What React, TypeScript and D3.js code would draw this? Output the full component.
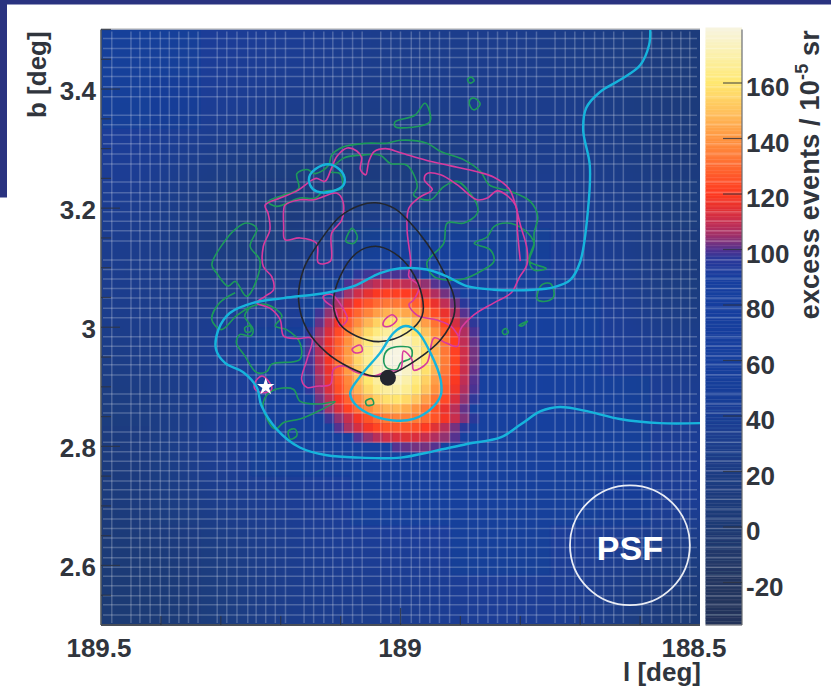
import React from "react";
import * as d3 from "d3";

type P = [number, number];

// colour bar
const colorValues = [-35, -20, 0, 20, 40, 60, 90, 97, 100, 105, 110, 115, 120, 130, 140, 150, 160, 170, 180];
const colorStops = ["#22335a", "#233660", "#1f3a74", "#1c3c84", "#1a3e95", "#183f9e", "#183f9f", "#2f3798", "#55308f", "#a0306a", "#c82e4e", "#e63030", "#ff3a20", "#ff6a30", "#ff9540", "#ffc25c", "#ffe870", "#fbf0aa", "#f7f4e2"];
const colorTicks = [-20, 0, 20, 40, 60, 80, 100, 120, 140, 160];

// axes
const lTicksMajor = [189.5, 189, 188.5];
const lTicksMinor = [189.4, 189.3, 189.2, 189.1, 188.9, 188.8, 188.7, 188.6];
const bTicksMajor = [3.4, 3.2, 3.0, 2.8, 2.6];
const bTicksMinor = [3.5, 3.45, 3.35, 3.3, 3.25, 3.15, 3.1, 3.05, 2.95, 2.9, 2.85, 2.75, 2.7, 2.65, 2.55];

// smooth background, 12 x 12 coarse cells, top row first, l descending
const bgValues = [
  [50, 50, 45, 40, 35, 30, 28, 30, 30, 25, 20, 10],
  [50, 48, 40, 32, 28, 25, 28, 32, 32, 28, 20, 10],
  [45, 35, 25, 20, 15, 12, 15, 22, 28, 28, 22, 12],
  [35, 25, 15, 8, 10, 15, 20, 28, 35, 35, 28, 15],
  [30, 25, 15, 15, 30, 50, 60, 55, 50, 45, 30, 10],
  [30, 30, 30, 35, 50, 70, 85, 85, 70, 55, 35, 18],
  [25, 30, 40, 50, 65, 80, 85, 85, 75, 60, 45, 30],
  [15, 25, 40, 55, 70, 85, 85, 85, 78, 65, 50, 35],
  [12, 25, 40, 50, 60, 75, 80, 80, 70, 60, 50, 40],
  [10, 20, 30, 35, 45, 55, 60, 60, 55, 50, 48, 40],
  [5, 10, 20, 30, 38, 40, 45, 50, 50, 45, 35, 20],
  [0, 5, 15, 28, 30, 30, 35, 42, 42, 35, 20, 5],
];

// hot spot bins: bin edge origin and bin width in degrees
const hotStartL = 189.159;
const hotStartB = 3.097;
const hotBinDeg = 1 / 62;
const hotValues = [
  [84, 86, 88, 90, 93, 96, 98, 99, 99, 99, 99, 97, 95, 94, 92, 89, 87, 85],
  [86, 88, 91, 95, 99, 103, 106, 109, 110, 110, 109, 107, 104, 100, 96, 93, 89, 87],
  [88, 91, 95, 100, 105, 111, 115, 119, 121, 121, 120, 117, 112, 107, 102, 97, 93, 89],
  [90, 94, 100, 106, 113, 120, 126, 130, 133, 133, 132, 128, 122, 116, 109, 102, 96, 92],
  [92, 98, 104, 112, 121, 129, 136, 142, 146, 146, 144, 139, 132, 124, 116, 107, 100, 94],
  [95, 101, 109, 118, 128, 138, 147, 154, 158, 158, 156, 150, 142, 132, 122, 112, 104, 97],
  [97, 104, 113, 123, 134, 146, 156, 163, 168, 169, 166, 159, 150, 139, 128, 117, 107, 99],
  [98, 106, 116, 127, 139, 151, 162, 170, 175, 176, 173, 166, 156, 144, 132, 120, 109, 101],
  [99, 107, 117, 129, 141, 154, 165, 174, 179, 180, 176, 169, 158, 146, 133, 121, 111, 102],
  [99, 108, 118, 130, 142, 155, 166, 175, 180, 180, 177, 170, 159, 147, 134, 122, 111, 102],
  [98, 107, 116, 128, 141, 153, 164, 173, 178, 179, 175, 168, 158, 146, 133, 121, 110, 101],
  [97, 105, 115, 126, 137, 149, 160, 168, 173, 174, 170, 163, 154, 142, 130, 119, 109, 100],
  [96, 104, 113, 124, 135, 146, 156, 164, 168, 169, 166, 159, 150, 139, 128, 117, 107, 99],
  [95, 102, 109, 118, 128, 138, 147, 154, 158, 159, 156, 151, 142, 132, 123, 113, 104, 97],
  [92, 98, 105, 113, 121, 130, 138, 143, 147, 148, 145, 140, 133, 125, 116, 108, 101, 94],
  [90, 93, 98, 104, 110, 118, 125, 130, 134, 136, 136, 134, 130, 125, 118, 110, 103, 96],
  [87, 90, 94, 100, 106, 112, 118, 122, 125, 126, 126, 124, 120, 114, 108, 102, 96, 90],
  [85, 87, 90, 93, 95, 100, 104, 108, 111, 113, 114, 113, 110, 107, 104, 100, 95, 88],
  [83, 85, 87, 89, 91, 94, 95, 95, 95, 100, 101, 102, 102, 100, 95, 92, 88, 85],
];

// overlay grid lines
const gridL = [189.482, 189.45, 189.435, 189.418, 189.401, 189.386, 189.37, 189.354, 189.338, 189.306, 189.29, 189.273, 189.255, 189.241, 189.225, 189.209, 189.192, 189.161, 189.145, 189.128, 189.113, 189.097, 189.08, 189.064, 189.033, 189.016, 189.0, 188.982, 188.968, 188.951, 188.935, 188.918, 188.887, 188.871, 188.854, 188.838, 188.822, 188.806, 188.79, 188.773, 188.742, 188.725, 188.709, 188.694, 188.676, 188.661, 188.644, 188.628, 188.597, 188.581, 188.564, 188.547, 188.532, 188.517];
const gridB = [3.485, 3.468, 3.453, 3.436, 3.421, 3.404, 3.387, 3.356, 3.34, 3.323, 3.308, 3.291, 3.274, 3.244, 3.226, 3.211, 3.194, 3.178, 3.162, 3.145, 3.113, 3.097, 3.081, 3.065, 3.049, 3.032, 3.016, 2.984, 2.968, 2.952, 2.937, 2.92, 2.888, 2.871, 2.856, 2.824, 2.807, 2.791, 2.775, 2.759, 2.742, 2.727, 2.711, 2.695, 2.678, 2.662, 2.646, 2.63, 2.613, 2.597, 2.582, 2.566, 2.549, 2.534, 2.517];

// contours [l, b]
const blackOuter: P[] = [[189.17,3.044],[189.162,3.097],[189.137,3.141],[189.101,3.186],[189.067,3.205],[189.042,3.209],[189.011,3.2],[188.986,3.178],[188.956,3.141],[188.93,3.097],[188.911,3.052],[188.911,3.019],[188.933,2.979],[188.972,2.946],[189.017,2.921],[189.045,2.918],[189.084,2.932],[189.123,2.957],[189.156,2.996]];
const blackInner: P[] = [[189.112,3.038],[189.101,3.085],[189.073,3.125],[189.042,3.136],[189.011,3.125],[188.983,3.097],[188.964,3.052],[188.964,3.019],[188.989,2.991],[189.034,2.976],[189.073,2.985],[189.101,3.005]];
const cyanBlob: P[] = [[189.151,3.256],[189.131,3.272],[189.112,3.272],[189.095,3.256],[189.095,3.239],[189.115,3.228],[189.14,3.228],[189.151,3.239]];
const cyanTriangle: P[] = [[189.084,2.89],[189.067,2.918],[189.034,2.957],[189.011,2.991],[188.992,3.002],[188.972,2.993],[188.95,2.957],[188.933,2.912],[188.933,2.885],[188.95,2.862],[188.978,2.846],[189.006,2.843],[189.045,2.851],[189.076,2.871]];
const cyanLong: P[] = [[188.583,3.499],[188.585,3.474],[188.6,3.44],[188.634,3.415],[188.667,3.395],[188.69,3.368],[188.695,3.331],[188.684,3.272],[188.687,3.197],[188.7,3.11],[188.717,3.079],[188.745,3.067],[188.777,3.063],[188.844,3.063],[188.889,3.069],[188.922,3.085],[188.956,3.097],[189.0,3.099],[189.034,3.091],[189.078,3.069],[189.123,3.058],[189.195,3.049],[189.246,3.041],[189.285,3.024],[189.304,2.996],[189.308,2.963],[189.293,2.94],[189.262,2.924],[189.24,2.899],[189.232,2.868],[189.207,2.829],[189.168,2.798],[189.123,2.785],[189.067,2.781],[189.0,2.781],[188.944,2.792],[188.889,2.804],[188.833,2.815],[188.799,2.837],[188.766,2.859],[188.734,2.866],[188.684,2.858],[188.634,2.846],[188.567,2.839],[188.5,2.839]];

const magentaClosed: P[][] = [
  [[189.226,3.205],[189.201,3.217],[189.173,3.229],[189.148,3.247],[189.14,3.25],[189.126,3.245],[189.116,3.265],[189.106,3.287],[189.089,3.301],[189.073,3.296],[189.065,3.285],[189.067,3.265],[189.058,3.256],[189.053,3.278],[189.044,3.295],[189.025,3.3],[189.0,3.293],[188.956,3.28],[188.916,3.271],[188.872,3.261],[188.844,3.252],[188.819,3.233],[188.808,3.205],[188.8,3.172],[188.789,3.133],[188.789,3.105],[188.802,3.083],[188.815,3.058],[188.844,3.041],[188.877,3.021],[188.9,2.996],[188.905,2.968],[188.925,2.974],[188.944,2.982],[188.956,2.94],[188.978,2.928],[188.981,2.946],[188.995,2.96],[189.0,2.929],[189.022,2.926],[189.045,2.918],[189.073,2.924],[189.095,2.935],[189.112,2.929],[189.117,2.904],[189.14,2.901],[189.156,2.899],[189.165,2.912],[189.156,2.946],[189.148,2.981],[189.173,2.981],[189.195,2.985],[189.201,3.013],[189.218,3.032],[189.24,3.041],[189.226,3.052],[189.212,3.063],[189.215,3.085],[189.229,3.102],[189.229,3.136],[189.218,3.164],[189.221,3.191]],
  [[189.193,3.205],[189.168,3.214],[189.145,3.214],[189.106,3.225],[189.096,3.211],[189.098,3.18],[189.115,3.158],[189.117,3.111],[189.137,3.108],[189.14,3.141],[189.168,3.15],[189.193,3.147],[189.195,3.169],[189.195,3.197]],
  [[189.129,3.052],[189.115,3.055],[189.098,3.035],[189.089,3.013],[189.101,3.002],[189.109,3.03],[189.126,3.044]],
  [[189.028,3.01],[189.014,3.021],[189.006,3.013],[189.017,3.002],[189.028,3.002]],
  [[189.081,2.963],[189.067,2.97],[189.064,2.96],[189.076,2.957]],
  [[189.243,2.907],[189.232,2.918],[189.221,2.91],[189.215,2.896],[189.229,2.89],[189.243,2.896]],
];
const magentaOpen: P[] = [[188.8,3.111],[188.805,3.164],[188.808,3.205],[188.838,3.229],[188.855,3.217],[188.872,3.214],[188.905,3.239],[188.933,3.256],[188.956,3.258],[188.96,3.247],[188.947,3.231],[188.967,3.219],[188.986,3.2],[188.989,3.164],[188.983,3.108],[188.986,3.085],[188.969,3.069],[188.978,3.046],[188.986,3.038],[188.972,3.02],[188.939,3.012],[188.916,3.002],[188.903,2.985]];

const greenClosed: P[][] = [
  [[189.221,3.211],[189.195,3.222],[189.17,3.233],[189.173,3.258],[189.156,3.265],[189.142,3.258],[189.12,3.272],[189.115,3.289],[189.095,3.303],[189.056,3.309],[189.023,3.309],[189.0,3.314],[188.956,3.309],[188.933,3.295],[188.894,3.281],[188.866,3.261],[188.852,3.239],[188.816,3.228],[188.783,3.211],[188.771,3.186],[188.777,3.158],[188.777,3.141],[188.785,3.111],[188.757,3.099],[188.777,3.096],[188.785,3.111],[188.777,3.141],[188.794,3.164],[188.822,3.175],[188.844,3.169],[188.855,3.152],[188.877,3.141],[188.85,3.13],[188.844,3.111],[188.861,3.097],[188.9,3.08],[188.944,3.085],[188.956,3.108],[188.928,3.141],[188.922,3.175],[188.894,3.175],[188.872,3.191],[188.872,3.205],[188.905,3.245],[188.928,3.236],[188.95,3.214],[188.978,3.222],[188.972,3.236],[188.989,3.272],[189.017,3.275],[189.034,3.289],[189.067,3.289],[189.095,3.284],[189.117,3.261],[189.101,3.258],[189.098,3.233],[189.129,3.228],[189.142,3.217],[189.168,3.217],[189.207,3.203]],
  [[189.257,3.175],[189.24,3.166],[189.251,3.136],[189.235,3.113],[189.24,3.08],[189.257,3.052],[189.276,3.077],[189.288,3.069],[189.307,3.091],[189.315,3.105],[189.296,3.141],[189.274,3.166]],
  [[189.215,2.893],[189.179,2.896],[189.168,2.876],[189.137,2.871],[189.109,2.875],[189.142,2.857],[189.168,2.846],[189.195,2.84],[189.209,2.829],[189.223,2.846],[189.229,2.874]],
  [[189.187,2.826],[189.176,2.829],[189.173,2.818],[189.184,2.812]],
  [[189.26,2.999],[189.251,3.002],[189.25,2.993],[189.258,2.992]],
  [[189.081,3.166],[189.072,3.152],[189.078,3.141],[189.091,3.144],[189.087,3.158]],
  [[189.028,2.946],[189.02,2.963],[188.983,2.965],[188.982,2.949],[189.0,2.94],[189.006,2.929],[189.023,2.932]],
  [[189.058,2.876],[189.048,2.88],[189.045,2.871],[189.056,2.869]],
  [[188.771,3.058],[188.763,3.072],[188.749,3.073],[188.744,3.052],[188.755,3.044],[188.771,3.046]],
  [[188.83,2.993],[188.824,2.998],[188.82,2.991],[188.827,2.988]],
  [[188.802,3.003],[188.788,3.01],[188.797,3.002]],
  [[189.009,3.345],[188.976,3.356],[188.959,3.376],[188.951,3.345],[189.009,3.337]],
  [[188.884,3.382],[188.877,3.385],[188.867,3.375],[188.877,3.365],[188.884,3.372]],
  [[188.888,3.416],[188.882,3.42],[188.877,3.414],[188.884,3.41]],
];
const greenOpen: P[] = [[189.276,3.058],[189.302,3.041],[189.315,3.013],[189.299,2.996],[189.274,3.019],[189.249,3.035],[189.223,3.038],[189.198,3.019],[189.209,3.002],[189.19,2.996],[189.168,2.974],[189.168,2.946],[189.215,2.938],[189.223,2.926],[189.24,2.924],[189.26,2.952],[189.274,2.974],[189.268,2.988],[189.251,2.985],[189.246,2.996],[189.26,3.019],[189.249,3.035]];

const dot: P = [189.021, 2.915];
const star: P = [189.225, 2.9];
const psfCentre: P = [188.617, 2.634];
const psfRadiusDeg = 0.1;

const W = 831, H = 686;
const X0 = 101, X1 = 700, Y0 = 29.5, Y1 = 625;
const x = d3.scaleLinear().domain([189.5, 188.5]).range([X0, X1]);
const y = d3.scaleLinear().domain([3.5, 2.5]).range([Y0, Y1]);
const cbY = d3.scaleLinear().domain([0, 160]).range([527, 83]);
const CB0 = 705.5, CB1 = 742;
const color = d3.scaleLinear<string>().domain(colorValues).range(colorStops).interpolate(d3.interpolateRgb).clamp(true);

const smoothClosed = d3.line<P>().x(d => x(d[0])).y(d => y(d[1])).curve(d3.curveCatmullRomClosed.alpha(0.5));
const smoothOpen = d3.line<P>().x(d => x(d[0])).y(d => y(d[1])).curve(d3.curveCatmullRom.alpha(0.5));

const FONT = "'Liberation Sans', Arial, sans-serif";
const TXT = "#30353d";
const CYAN = "#17b4dc";
const GREEN = "#1f9a5a";
const MAGENTA = "#d83a9e";
const BLACK = "#23262e";
const tickLabelX: Record<string, number> = { "189.5": 99, "189": 400, "188.5": 694 };

export default function App() {
  const binL = (i: number) => hotStartL - i * hotBinDeg;
  const binB = (j: number) => hotStartB - j * hotBinDeg;
  const coarse = 1 / 12;
  const cbLevels = d3.range(-35, 180, 0.5);
  const starPath = d3.symbol().type(d3.symbolStar).size(95)()!;
  return (
    <svg width={W} height={H} viewBox={`0 0 ${W} ${H}`} style={{ position: "fixed", left: 0, top: 0, background: "#fff" }}>
      <defs>
        <clipPath id="plot"><rect x={X0} y={Y0} width={X1 - X0} height={Y1 - Y0} /></clipPath>
        <filter id="bgblur" x="-20%" y="-20%" width="140%" height="140%"><feGaussianBlur stdDeviation="22" /></filter>
        <filter id="soft" x="-5%" y="-5%" width="110%" height="110%"><feGaussianBlur stdDeviation="0.35" /></filter>
      </defs>
      <rect x={0} y={0} width={W} height={4.5} fill="#2a3380" />
      <rect x={0} y={0} width={7} height={197.5} fill="#2a3380" />

      <g clipPath="url(#plot)">
        <g filter="url(#bgblur)">
          {bgValues.map((row, r) => row.map((v, c) => {
            const xa = c === 0 ? X0 - 80 : x(189.5 - c * coarse);
            const xb = c === 11 ? X1 + 80 : x(189.5 - (c + 1) * coarse);
            const ya = r === 0 ? Y0 - 80 : y(3.5 - r * coarse);
            const yb = r === 11 ? Y1 + 80 : y(3.5 - (r + 1) * coarse);
            return <rect key={`${r}-${c}`} x={xa} y={ya} width={xb - xa + 0.5} height={yb - ya + 0.5} fill={color(v)} />;
          }))}
        </g>
        <g filter="url(#soft)">
          {hotValues.map((row, r) => row.map((v, c) => v < 96 ? null : (
            <rect key={`${r}-${c}`} x={x(binL(c))} y={y(binB(r))}
              width={x(binL(c + 1)) - x(binL(c)) + 0.3}
              height={y(binB(r + 1)) - y(binB(r)) + 0.3} fill={color(v)} />
          )))}
        </g>
      </g>

      <g filter="url(#soft)">
        {cbLevels.map(v => (
          <rect key={v} x={CB0} y={cbY(v + 0.5)} width={CB1 - CB0} height={cbY(v) - cbY(v + 0.5) + 0.4} fill={color(v)} />
        ))}
      </g>

      <g stroke="#fff" strokeOpacity={0.22} strokeWidth={1.5} filter="url(#soft)">
        {gridL.map(l => <line key={l} x1={x(l)} x2={x(l)} y1={Y0 + 2} y2={Y1 - 2} />)}
        {gridB.map(b => <line key={b} x1={X0 + 2} x2={X1 - 3} y1={y(b)} y2={y(b)} />)}
        {gridB.map(b => <line key={`c${b}`} x1={CB0} x2={CB1} y1={y(b)} y2={y(b)} />)}
      </g>

      <g fill="none" strokeLinejoin="round" clipPath="url(#plot)" filter="url(#soft)">
        <g stroke={GREEN} strokeWidth={1.6}>
          {greenClosed.map((p, i) => <path key={i} d={smoothClosed(p)!} />)}
          <path d={smoothOpen(greenOpen)!} />
        </g>
        <g stroke={MAGENTA} strokeWidth={1.6}>
          {magentaClosed.map((p, i) => <path key={i} d={smoothClosed(p)!} />)}
          <path d={smoothOpen(magentaOpen)!} />
        </g>
        <g stroke={BLACK} strokeWidth={1.6}>
          <path d={smoothClosed(blackOuter)!} />
          <path d={smoothClosed(blackInner)!} />
        </g>
        <g stroke={CYAN} strokeWidth={2.4}>
          <path d={smoothClosed(cyanBlob)!} />
          <path d={smoothClosed(cyanTriangle)!} />
          <path d={smoothOpen(cyanLong)!} />
        </g>
      </g>

      <circle cx={x(dot[0])} cy={y(dot[1])} r={8} fill={BLACK} />
      <path d={starPath} transform={`translate(${x(star[0])},${y(star[1])})`} fill="#fff" />
      <circle cx={x(psfCentre[0])} cy={y(psfCentre[1])} r={x(psfCentre[0] - psfRadiusDeg) - x(psfCentre[0])} fill="none" stroke="#fff" strokeOpacity={0.9} strokeWidth={1.8} />
      <text x={x(psfCentre[0])} y={y(psfCentre[1]) + 15} textAnchor="middle" fontFamily={FONT} fontWeight={700} fontSize={34} fill="#fff">PSF</text>

      {/* frame and ticks */}
      <line x1={X0} x2={X1} y1={Y0 - 0.5} y2={Y0 - 0.5} stroke="#aaa" strokeWidth={1} />
      <line x1={X0} x2={X0} y1={Y0} y2={Y1} stroke="#555a60" strokeWidth={1.6} />
      <line x1={X0} x2={X1} y1={Y1} y2={Y1} stroke="#4a4f58" strokeWidth={2} />
      <line x1={CB1} x2={CB1} y1={Y0} y2={Y1} stroke="#6a6d72" strokeWidth={1.2} />
      <line x1={CB0} x2={CB1} y1={Y1} y2={Y1} stroke="#4a4f58" strokeWidth={1.2} />
      <g stroke="#2e3340" strokeWidth={1.2} strokeOpacity={0.8}>
        {bTicksMajor.map(b => <line key={b} x1={X0} x2={X0 + 19} y1={y(b)} y2={y(b)} />)}
        {bTicksMinor.map(b => <line key={b} x1={X0} x2={X0 + 10} y1={y(b)} y2={y(b)} />)}
        {lTicksMinor.map(l => <line key={l} x1={x(l)} x2={x(l)} y1={Y1} y2={Y1 - 9} />)}
        {[189].map(l => <line key={l} x1={x(l)} x2={x(l)} y1={Y1} y2={Y1 - 17} />)}
        {colorTicks.map(v => <line key={v} x1={CB1} x2={CB1 - 19} y1={cbY(v)} y2={cbY(v)} />)}
      </g>

      <g fontFamily={FONT} fill={TXT} fontSize={26} fontWeight={700}>
        {bTicksMajor.map(b => <text key={b} x={96} y={y(b) + 11} textAnchor="end">{String(b)}</text>)}
        {lTicksMajor.map(l => <text key={l} x={tickLabelX[String(l)]} y={657} textAnchor="middle">{String(l)}</text>)}
        {colorTicks.map(v => <text key={v} x={746} y={cbY(v) + 13}>{String(v)}</text>)}
        <text x={701} y={681} textAnchor="end">l [deg]</text>
        <text transform="translate(46,118) rotate(-90)">b [deg]</text>
        <text transform="translate(819,30) rotate(-90)" textAnchor="end" fontSize={27} letterSpacing={0.2}>
          excess events / 10<tspan dy={-11} fontSize={18}>-5</tspan><tspan dy={11}> sr</tspan>
        </text>
      </g>
    </svg>
  );
}
